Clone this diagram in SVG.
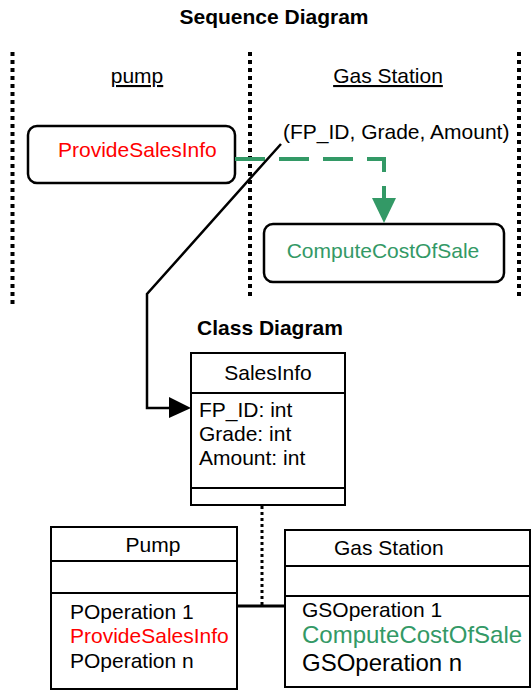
<svg xmlns="http://www.w3.org/2000/svg" width="531" height="690" viewBox="0 0 531 690">
  <style>
    text { font-family: "Liberation Sans", Arial, sans-serif; fill: #000; }
    .title { font-size: 21px; font-weight: bold; }
    .t21 { font-size: 21px; }
    .t24 { font-size: 24px; }
    .red { fill: #ff0000; }
    .green { fill: #339966; }
    .lifeline { stroke: #000; stroke-width: 4; stroke-dasharray: 4 4; fill: none; }
    .act { fill: #fff; stroke: #000; stroke-width: 2.5; }
    .cls { fill: #fff; stroke: #000; stroke-width: 2; }
    .sep { stroke: #000; stroke-width: 2; }
  </style>

  <!-- Sequence diagram -->
  <text class="title" x="274" y="24" text-anchor="middle">Sequence Diagram</text>

  <g id="lifelines">
    <line class="lifeline" x1="12.5" y1="52" x2="12.5" y2="304"/>
    <line class="lifeline" x1="250" y1="52" x2="250" y2="300"/>
    <line class="lifeline" x1="519" y1="52" x2="519" y2="298"/>
  </g>

  <g id="lane-pump">
    <text class="t21" x="137" y="83" text-anchor="middle" text-decoration="underline">pump</text>
  </g>
  <g id="lane-gas-station">
    <text class="t21" x="388" y="83" text-anchor="middle" text-decoration="underline">Gas Station</text>
  </g>

  <g id="act-provide">
    <rect class="act" x="28" y="126" width="207" height="57" rx="9"/>
    <text class="t21 red" x="58" y="157">ProvideSalesInfo</text>
  </g>

  <g id="act-compute">
    <rect class="act" x="264" y="224" width="240" height="58" rx="9"/>
    <text class="t21 green" x="383" y="258" text-anchor="middle">ComputeCostOfSale</text>
  </g>

  <!-- Class diagram -->
  <text class="title" x="270" y="335" text-anchor="middle">Class Diagram</text>

  <g id="cls-salesinfo">
    <rect class="cls" x="191" y="353" width="154" height="152"/>
    <line class="sep" x1="191" y1="393" x2="345" y2="393"/>
    <line class="sep" x1="191" y1="488" x2="345" y2="488"/>
    <text class="t21" x="268" y="380" text-anchor="middle">SalesInfo</text>
    <text class="t21" x="199" y="417">FP_ID: int</text>
    <text class="t21" x="199" y="441">Grade: int</text>
    <text class="t21" x="199" y="465">Amount: int</text>
  </g>

  <g id="cls-pump">
    <rect class="cls" x="51" y="527" width="186" height="162"/>
    <line class="sep" x1="51" y1="561" x2="237" y2="561"/>
    <line class="sep" x1="51" y1="593" x2="237" y2="593"/>
    <text class="t21" x="153" y="552" text-anchor="middle">Pump</text>
    <text class="t21" x="70" y="619">POperation 1</text>
    <text class="t21 red" x="70" y="643">ProvideSalesInfo</text>
    <text class="t21" x="70" y="668">POperation n</text>
  </g>

  <g id="cls-gas-station">
    <rect class="cls" x="285" y="530" width="245" height="157"/>
    <line class="sep" x1="285" y1="566" x2="530" y2="566"/>
    <line class="sep" x1="285" y1="596" x2="530" y2="596"/>
    <text class="t21" x="334" y="555">Gas Station</text>
    <text class="t21" x="302" y="617">GSOperation 1</text>
    <text class="t24 green" x="302" y="643">ComputeCostOfSale</text>
    <text class="t24" x="302" y="671">GSOperation n</text>
  </g>

  <!-- Connectors -->
  <g id="connectors">
    <!-- message call -->
    <path d="M235,159 H384 V198" fill="none" stroke="#339966" stroke-width="4" stroke-dasharray="30 14"/>
    <polygon points="372,198 396,198 384,223" fill="#339966"/>
    <text class="t21" x="283" y="139">(FP_ID, Grade, Amount)</text>

    <!-- parameters map onto the class -->
    <path d="M281,144 L147,294 V408 H170" fill="none" stroke="#000" stroke-width="2.5"/>
    <polygon points="169,397 169,418 191,408" fill="#000"/>

    <!-- association with class -->
    <line x1="237" y1="606" x2="285" y2="606" stroke="#000" stroke-width="3"/>
    <line x1="262" y1="506" x2="262" y2="605" stroke="#000" stroke-width="3" stroke-dasharray="3 3"/>
  </g>
</svg>
